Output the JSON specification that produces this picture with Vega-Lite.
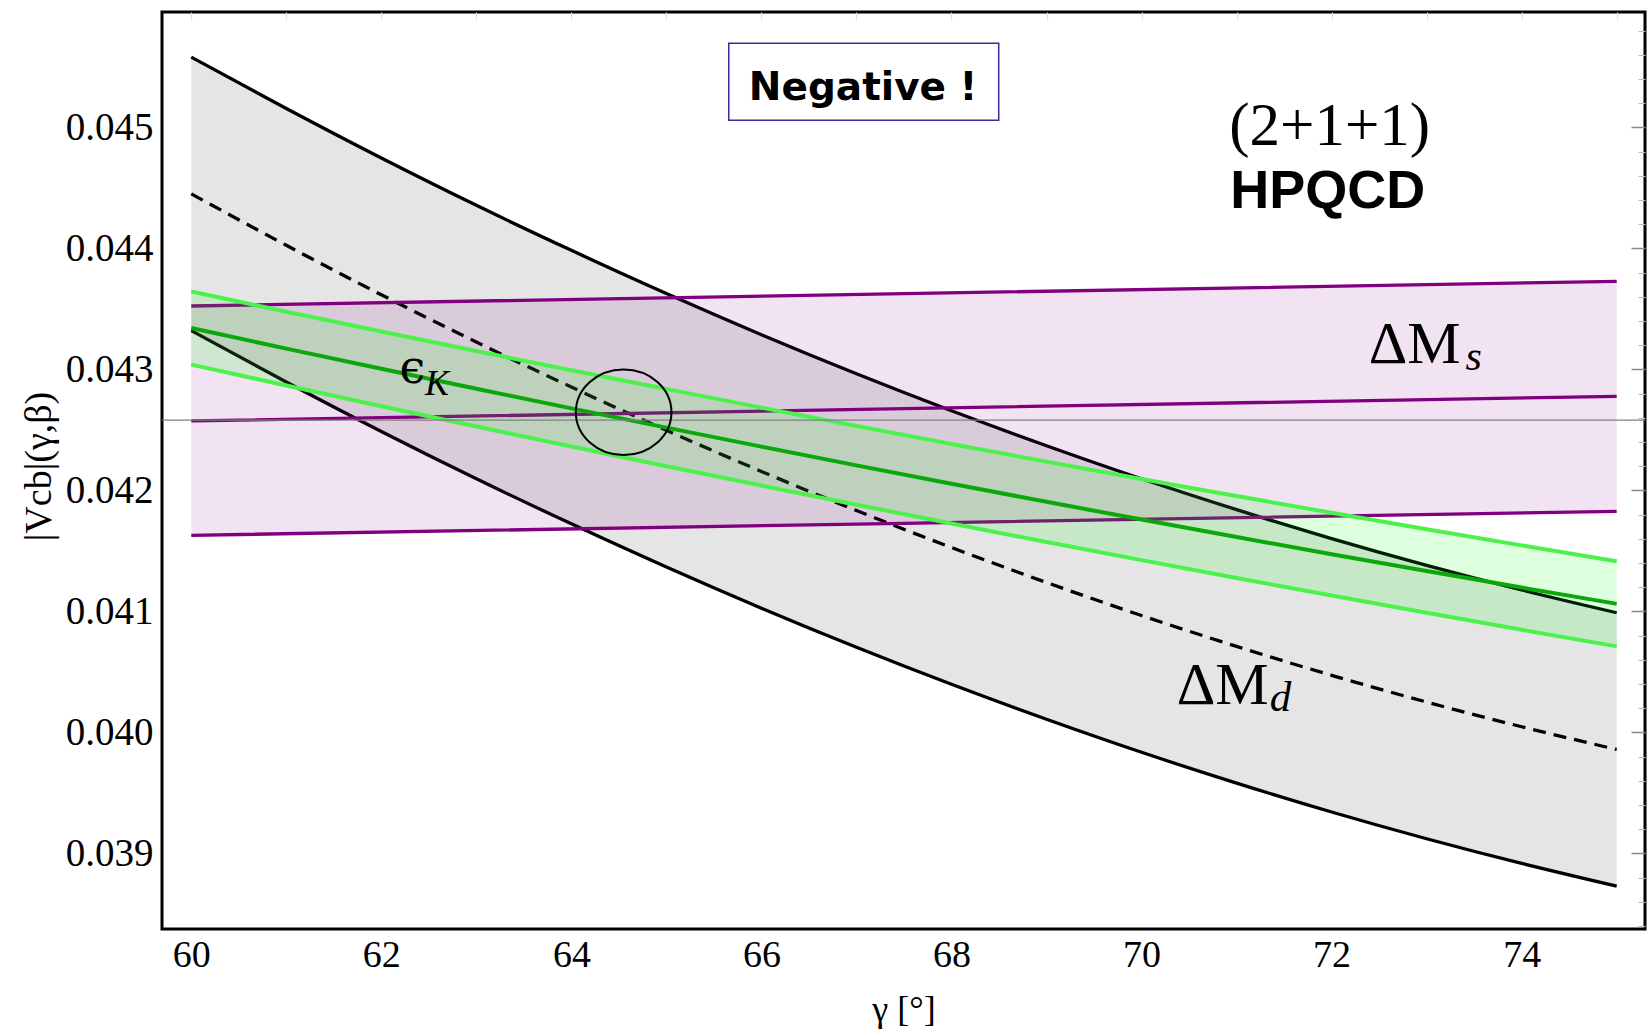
{
  "$schema": "https://vega.github.io/schema/vega-lite/v6.json",
  "width": 1483,
  "height": 917,
  "autosize": {"type": "none"},
  "padding": {"left": 162, "top": 12, "right": 7, "bottom": 102},
  "background": "white",
  "config": {
    "view": {"stroke": "black", "strokeWidth": 3},
    "axis": {
      "grid": false,
      "domain": false,
      "labelFont": "Liberation Serif",
      "titleFont": "Liberation Serif",
      "labelColor": "black",
      "titleColor": "black",
      "titleFontWeight": "normal"
    }
  },
  "datasets": {
    "one": [{}],
    "dmd": [
      {"g": 60, "lo": 0.04332, "mid": 0.04445, "hi": 0.04558},
      {"g": 61, "lo": 0.042895, "mid": 0.044025, "hi": 0.045155},
      {"g": 62, "lo": 0.042486, "mid": 0.043616, "hi": 0.044746},
      {"g": 63, "lo": 0.042095, "mid": 0.043225, "hi": 0.044355},
      {"g": 64, "lo": 0.041723, "mid": 0.042853, "hi": 0.043983},
      {"g": 65, "lo": 0.041366, "mid": 0.042496, "hi": 0.043626},
      {"g": 66, "lo": 0.041026, "mid": 0.042156, "hi": 0.043286},
      {"g": 67, "lo": 0.040703, "mid": 0.041833, "hi": 0.042963},
      {"g": 68, "lo": 0.040397, "mid": 0.041527, "hi": 0.042657},
      {"g": 69, "lo": 0.040108, "mid": 0.041238, "hi": 0.042368},
      {"g": 70, "lo": 0.039835, "mid": 0.040965, "hi": 0.042095},
      {"g": 71, "lo": 0.03958, "mid": 0.04071, "hi": 0.04184},
      {"g": 72, "lo": 0.039341, "mid": 0.040471, "hi": 0.041601},
      {"g": 73, "lo": 0.03912, "mid": 0.04025, "hi": 0.04138},
      {"g": 74, "lo": 0.038916, "mid": 0.040046, "hi": 0.041176},
      {"g": 75, "lo": 0.038728, "mid": 0.039858, "hi": 0.040988}
    ],
    "dms": [
      {"g": 60, "lo": 0.041628, "mid": 0.042573, "hi": 0.043523},
      {"g": 67.5, "lo": 0.041727, "mid": 0.042675, "hi": 0.043625},
      {"g": 75, "lo": 0.041826, "mid": 0.042777, "hi": 0.043727}
    ],
    "epsk": [
      {"g": 60, "lo": 0.043039, "mid": 0.043341, "hi": 0.043643},
      {"g": 61, "lo": 0.042866, "mid": 0.043171, "hi": 0.043476},
      {"g": 62, "lo": 0.042695, "mid": 0.043004, "hi": 0.043313},
      {"g": 63, "lo": 0.042527, "mid": 0.042839, "hi": 0.043151},
      {"g": 64, "lo": 0.042362, "mid": 0.042677, "hi": 0.042992},
      {"g": 65, "lo": 0.042199, "mid": 0.042518, "hi": 0.042837},
      {"g": 66, "lo": 0.042039, "mid": 0.042361, "hi": 0.042683},
      {"g": 67, "lo": 0.041881, "mid": 0.042206, "hi": 0.042531},
      {"g": 68, "lo": 0.041725, "mid": 0.042054, "hi": 0.042383},
      {"g": 69, "lo": 0.041573, "mid": 0.041905, "hi": 0.042237},
      {"g": 70, "lo": 0.041423, "mid": 0.041758, "hi": 0.042093},
      {"g": 71, "lo": 0.041275, "mid": 0.041614, "hi": 0.041953},
      {"g": 72, "lo": 0.04113, "mid": 0.041472, "hi": 0.041814},
      {"g": 73, "lo": 0.040988, "mid": 0.041333, "hi": 0.041678},
      {"g": 74, "lo": 0.040847, "mid": 0.041196, "hi": 0.041545},
      {"g": 75, "lo": 0.04071, "mid": 0.041062, "hi": 0.041414}
    ]
  },
  "layer": [
    {
      "layer": [
        {
          "data": {"name": "dmd"},
          "mark": {"type": "area", "fill": "#e5e5e5", "opacity": 1, "interpolate": "monotone"},
          "encoding": {
            "x": {
              "field": "g", "type": "quantitative",
              "scale": {"domain": [59.692, 75.298], "nice": false, "zero": false},
              "axis": {
                "orient": "bottom",
                "values": [60, 62, 64, 66, 68, 70, 72, 74],
                "format": "d",
                "ticks": false, "tickSize": 0,
                "labelPadding": 7, "labelFontSize": 38, "labelFlush": false,
                "title": "γ [°]", "titleFontSize": 36,
                "titleY": 80, "titleBaseline": "middle"
              }
            },
            "y": {
              "field": "lo", "type": "quantitative",
              "scale": {"domain": [0.0383744, 0.0459529], "nice": false, "zero": false},
              "axis": {
                "orient": "left",
                "values": [0.039, 0.04, 0.041, 0.042, 0.043, 0.044, 0.045],
                "format": ".3f",
                "ticks": false, "tickSize": 0,
                "labelPadding": 9, "labelFontSize": 39, "labelFlush": false,
                "title": "|Vcb|(γ,β)", "titleFontSize": 38,
                "titleAngle": 270, "titleX": -123, "titleY": 454,
                "titleAlign": "center", "titleBaseline": "middle"
              }
            },
            "y2": {"field": "hi"}
          }
        },
        {
          "data": {"name": "dmd"},
          "mark": {"type": "line", "color": "black", "strokeWidth": 3.3, "interpolate": "monotone"},
          "encoding": {"x": {"field": "g", "type": "quantitative"}, "y": {"field": "hi", "type": "quantitative"}}
        },
        {
          "data": {"name": "dmd"},
          "mark": {"type": "line", "color": "black", "strokeWidth": 3.3, "interpolate": "monotone"},
          "encoding": {"x": {"field": "g", "type": "quantitative"}, "y": {"field": "lo", "type": "quantitative"}}
        },
        {
          "data": {"name": "dmd"},
          "mark": {"type": "line", "color": "black", "strokeWidth": 3.3, "strokeDash": [13, 8], "interpolate": "monotone"},
          "encoding": {"x": {"field": "g", "type": "quantitative"}, "y": {"field": "mid", "type": "quantitative"}}
        },
        {
          "data": {"name": "dms"},
          "mark": {"type": "area", "fill": "#800080", "fillOpacity": 0.11},
          "encoding": {
            "x": {"field": "g", "type": "quantitative"},
            "y": {"field": "lo", "type": "quantitative"},
            "y2": {"field": "hi"}
          }
        },
        {
          "data": {"name": "dms"},
          "mark": {"type": "line", "color": "#800080", "strokeWidth": 3.3},
          "encoding": {"x": {"field": "g", "type": "quantitative"}, "y": {"field": "lo", "type": "quantitative"}}
        },
        {
          "data": {"name": "dms"},
          "mark": {"type": "line", "color": "#800080", "strokeWidth": 3.3},
          "encoding": {"x": {"field": "g", "type": "quantitative"}, "y": {"field": "mid", "type": "quantitative"}}
        },
        {
          "data": {"name": "dms"},
          "mark": {"type": "line", "color": "#800080", "strokeWidth": 3.3},
          "encoding": {"x": {"field": "g", "type": "quantitative"}, "y": {"field": "hi", "type": "quantitative"}}
        },
        {
          "data": {"name": "epsk"},
          "mark": {"type": "area", "fill": "#00ff00", "fillOpacity": 0.13, "interpolate": "monotone"},
          "encoding": {
            "x": {"field": "g", "type": "quantitative"},
            "y": {"field": "lo", "type": "quantitative"},
            "y2": {"field": "hi"}
          }
        },
        {
          "data": {"name": "epsk"},
          "mark": {"type": "line", "color": "#4cf24c", "strokeWidth": 4, "interpolate": "monotone"},
          "encoding": {"x": {"field": "g", "type": "quantitative"}, "y": {"field": "hi", "type": "quantitative"}}
        },
        {
          "data": {"name": "epsk"},
          "mark": {"type": "line", "color": "#4cf24c", "strokeWidth": 4, "interpolate": "monotone"},
          "encoding": {"x": {"field": "g", "type": "quantitative"}, "y": {"field": "lo", "type": "quantitative"}}
        },
        {
          "data": {"name": "epsk"},
          "mark": {"type": "line", "color": "#0aa80a", "strokeWidth": 4, "interpolate": "monotone"},
          "encoding": {"x": {"field": "g", "type": "quantitative"}, "y": {"field": "mid", "type": "quantitative"}}
        },
        {
          "data": {"name": "one"},
          "mark": {"type": "rect", "fill": "white", "stroke": "#303095", "strokeWidth": 1.5},
          "encoding": {
            "x": {"datum": 65.656}, "x2": {"datum": 68.497},
            "y": {"datum": 0.045694}, "y2": {"datum": 0.045058}
          }
        },
        {
          "data": {"name": "one"},
          "mark": {"type": "text", "text": "Negative !", "font": "DejaVu Sans", "fontWeight": "bold", "fontSize": 39, "align": "center", "baseline": "alphabetic", "color": "black"},
          "encoding": {"x": {"datum": 67.07}, "y": {"datum": 0.045228}}
        },
        {
          "data": {"name": "one"},
          "mark": {"type": "text", "text": "(2+1+1)", "font": "Liberation Serif", "fontSize": 61, "align": "center", "baseline": "alphabetic", "color": "black"},
          "encoding": {"x": {"datum": 71.98}, "y": {"datum": 0.044851}}
        },
        {
          "data": {"name": "one"},
          "mark": {"type": "text", "text": "HPQCD", "font": "Liberation Sans", "fontWeight": "bold", "fontSize": 54, "align": "center", "baseline": "alphabetic", "color": "black"},
          "encoding": {"x": {"datum": 71.96}, "y": {"datum": 0.044335}}
        },
        {
          "data": {"name": "one"},
          "mark": {"type": "text", "text": "ΔM", "font": "Liberation Serif", "fontSize": 60, "align": "left", "baseline": "alphabetic", "color": "black"},
          "encoding": {"x": {"datum": 72.39}, "y": {"datum": 0.043055}}
        },
        {
          "data": {"name": "one"},
          "mark": {"type": "text", "text": "s", "font": "Liberation Serif", "fontStyle": "italic", "fontSize": 42, "align": "left", "baseline": "alphabetic", "color": "black"},
          "encoding": {"x": {"datum": 73.41}, "y": {"datum": 0.042993}}
        },
        {
          "data": {"name": "one"},
          "mark": {"type": "text", "text": "ΔM", "font": "Liberation Serif", "fontSize": 60, "align": "left", "baseline": "alphabetic", "color": "black"},
          "encoding": {"x": {"datum": 70.37}, "y": {"datum": 0.040233}}
        },
        {
          "data": {"name": "one"},
          "mark": {"type": "text", "text": "d", "font": "Liberation Serif", "fontStyle": "italic", "fontSize": 43, "align": "left", "baseline": "alphabetic", "color": "black"},
          "encoding": {"x": {"datum": 71.35}, "y": {"datum": 0.040174}}
        },
        {
          "data": {"name": "one"},
          "mark": {"type": "text", "text": "ϵ", "font": "DejaVu Serif", "fontSize": 46, "align": "left", "baseline": "alphabetic", "color": "black"},
          "encoding": {"x": {"datum": 62.19}, "y": {"datum": 0.042884}}
        },
        {
          "data": {"name": "one"},
          "mark": {"type": "text", "text": "K", "font": "Liberation Serif", "fontStyle": "italic", "fontSize": 36, "align": "left", "baseline": "alphabetic", "color": "black"},
          "encoding": {"x": {"datum": 62.46}, "y": {"datum": 0.042788}}
        }
      ]
    },
    {
      "data": {"name": "one"},
      "mark": {"type": "rule", "color": "#808080", "strokeWidth": 1.2},
      "encoding": {
        "y": {
          "datum": 0.04258,
          "axis": {
            "orient": "right",
            "values": [0.039, 0.04, 0.041, 0.042, 0.043, 0.044, 0.045],
            "labels": false, "domain": false,
            "ticks": true, "tickSize": 14, "offset": -14,
            "tickColor": "#8a8a8a", "tickWidth": 1.5,
            "title": null
          }
        }
      }
    },
    {
      "data": {"name": "one"},
      "mark": {
        "type": "point",
        "shape": "M -1 0 A 1 0.895 0 1 1 1 0 A 1 0.895 0 1 1 -1 0 Z",
        "size": 9139,
        "filled": false,
        "stroke": "black",
        "strokeWidth": 2,
        "opacity": 1
      },
      "encoding": {
        "x": {
          "datum": 64.55,
          "axis": {
            "orient": "top",
            "values": [60, 61, 62, 63, 64, 65, 66, 67, 68, 69, 70, 71, 72, 73, 74, 75],
            "labels": false, "domain": false,
            "ticks": true, "tickSize": 8, "offset": -8,
            "tickColor": "#e2e2e2", "tickWidth": 1.2,
            "title": null
          }
        },
        "y": {
          "datum": 0.042645,
          "axis": {
            "orient": "right",
            "values": [0.0384, 0.0386, 0.0388, 0.0392, 0.0394, 0.0396, 0.0398, 0.0402, 0.0404, 0.0406, 0.0408, 0.0412, 0.0414, 0.0416, 0.0418, 0.0422, 0.0424, 0.0426, 0.0428, 0.0432, 0.0434, 0.0436, 0.0438, 0.0442, 0.0444, 0.0446, 0.0448, 0.0452, 0.0454, 0.0456, 0.0458],
            "labels": false, "domain": false,
            "ticks": true, "tickSize": 7, "offset": -7,
            "tickColor": "#bdbdbd", "tickWidth": 1.2,
            "title": null
          }
        }
      }
    }
  ],
  "resolve": {"axis": {"x": "independent", "y": "independent"}}
}
